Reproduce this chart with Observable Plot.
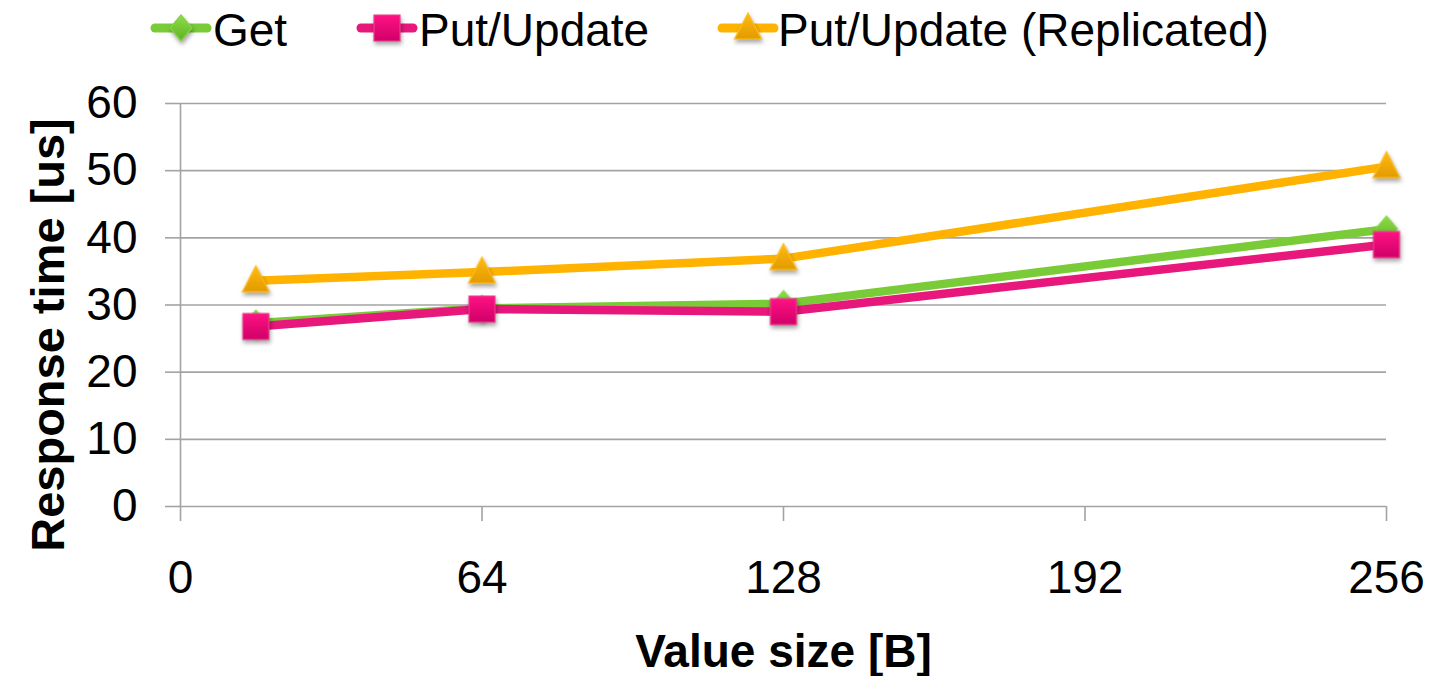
<!DOCTYPE html>
<html>
<head>
<meta charset="utf-8">
<script src="https://cdn.jsdelivr.net/npm/d3@7"></script>
<script src="https://cdn.jsdelivr.net/npm/@observablehq/plot@0.6"></script>
<style>
  html, body { margin: 0; padding: 0; background: #fff; }
  body { font-family: "Liberation Sans", Arial, sans-serif; width: 1431px; height: 676px; overflow: hidden; }
  svg { display: block; }
</style>
</head>
<body>
<div id="legend"></div>
<div id="chart"></div>
<script>
// Response time per request type as the value size grows
const valueSizes = [16, 64, 128, 256];
const getTimes = [27.3, 29.5, 30.2, 41.3];
const putTimes = [26.8, 29.4, 29.0, 39.0];
const putReplicatedTimes = [33.6, 34.9, 36.9, 50.6];

const seriesNames = ["Get", "Put/Update", "Put/Update (Replicated)"];
const xTicks = [0, 64, 128, 192, 256];
const yTicks = [0, 10, 20, 30, 40, 50, 60];
const xTitle = "Value size [B]";
const yTitle = "Response time [us]";

// marker shapes (centered on the data point)
const diamondSymbol = {draw(ctx) { ctx.moveTo(0, -13); ctx.lineTo(11, 0); ctx.lineTo(0, 13); ctx.lineTo(-11, 0); ctx.closePath(); }};
const squareSymbol = {draw(ctx) { ctx.rect(-13, -13, 26, 26); }};
const triangleSymbol = {draw(ctx) { ctx.moveTo(0, -15); ctx.lineTo(13.5, 11); ctx.lineTo(-13.5, 11); ctx.closePath(); }};

const series = [
  {name: seriesNames[0], values: getTimes, line: "#7acb38", edge: "#86d446", top: "#8ede4a", bottom: "#5fb022", symbol: diamondSymbol, id: "grad-get"},
  {name: seriesNames[1], values: putTimes, line: "#e8177b", edge: "#ee3d8e", top: "#ff1283", bottom: "#d00068", symbol: squareSymbol, id: "grad-put"},
  {name: seriesNames[2], values: putReplicatedTimes, line: "#ffb300", edge: "#ffbf1f", top: "#ffbb10", bottom: "#e39a00", symbol: triangleSymbol, id: "grad-rep"}
];

const rows = series.map(s => valueSizes.map((x, i) => ({series: s.name, size: x, time: s.values[i]})));

const fontFamily = "'Liberation Sans', Arial, Helvetica, sans-serif";
const markerShadow = "drop-shadow(1px 3px 2px rgba(0,0,0,0.35))";

function addGradients(svg) {
  const defs = svg.insert("defs", ":first-child");
  for (const s of series) {
    const g = defs.append("linearGradient").attr("id", s.id).attr("x1", 0).attr("y1", 0).attr("x2", 0).attr("y2", 1);
    g.append("stop").attr("offset", "0%").attr("stop-color", s.top);
    g.append("stop").attr("offset", "100%").attr("stop-color", s.bottom);
  }
}

// ---- legend row ----
const legendHeight = 62;
const legend = d3.select("#legend").append("svg")
  .attr("width", 1431).attr("height", legendHeight)
  .style("font-family", fontFamily);
addGradients(legend);
const legendItems = [
  {x: 151, text: 213},
  {x: 357, text: 419},
  {x: 718, text: 778}
];
series.forEach((s, i) => {
  const it = legendItems[i];
  const g = legend.append("g");
  g.append("line").attr("x1", it.x + 4).attr("x2", it.x + 56).attr("y1", 28).attr("y2", 28)
    .attr("stroke", s.line).attr("stroke-width", 9).attr("stroke-linecap", "round");
  g.append("path").attr("d", d3.symbol(s.symbol)()).attr("transform", `translate(${it.x + 30},28)`)
    .attr("fill", `url(#${s.id})`).attr("stroke", s.edge).attr("stroke-width", 1.2);
  g.append("text").attr("x", it.text).attr("y", 46).attr("font-size", 46).attr("fill", "#000").text(s.name);
});

// ---- chart ----
const plot = Plot.plot({
  width: 1431,
  height: 614,
  marginLeft: 180,
  marginRight: 45,
  marginTop: 41,
  marginBottom: 170,
  style: {fontFamily, fontSize: "46px", color: "#000", background: "#fff", overflow: "visible"},
  x: {domain: [0, 256]},
  y: {domain: [0, 60]},
  marks: [
    Plot.gridY({ticks: yTicks, stroke: "#a3a3a3", strokeOpacity: 1, strokeWidth: 1.6}),
    Plot.axisY({ticks: yTicks, tickSize: 15, tickPadding: 28, stroke: "#a3a3a3", strokeWidth: 1.6, fill: "#000", fontSize: 46, label: null}),
    Plot.ruleX([0], {stroke: "#a3a3a3", strokeWidth: 1.6}),
    Plot.axisX({ticks: xTicks, tickSize: 15, tickPadding: 39, stroke: "#a3a3a3", strokeWidth: 1.6, fill: "#000", fontSize: 46, label: null}),
    ...series.map((s, i) => Plot.line(rows[i], {x: "size", y: "time", stroke: s.line, strokeWidth: 8.5, strokeLinejoin: "round", strokeLinecap: "round"})),
    ...series.map((s, i) => Plot.dot(rows[i], {x: "size", y: "time", symbol: s.symbol, r: 10, fill: s.top, stroke: s.edge, strokeWidth: 1.2})),
    Plot.text([xTitle], {frameAnchor: "bottom", dy: 128, lineAnchor: "top", textAnchor: "middle", fontWeight: "bold", fontSize: 46, fill: "#000"}),
    Plot.text([yTitle], {frameAnchor: "left", rotate: -90, dx: -132, dy: 30, textAnchor: "middle", fontWeight: "bold", fontSize: 47, fill: "#000"})
  ]
});
document.getElementById("chart").append(plot);

// gradient fills and soft drop shadow on the markers
const chartSvg = d3.select(plot.tagName.toLowerCase() === "svg" ? plot : plot.querySelector("svg"));
addGradients(chartSvg);
chartSvg.selectAll('g[aria-label="dot"]').each(function(_, i) {
  d3.select(this).style("filter", markerShadow).selectAll("path").attr("fill", `url(#${series[i].id})`);
});
legend.selectAll("path").style("filter", markerShadow);
</script>
</body>
</html>
